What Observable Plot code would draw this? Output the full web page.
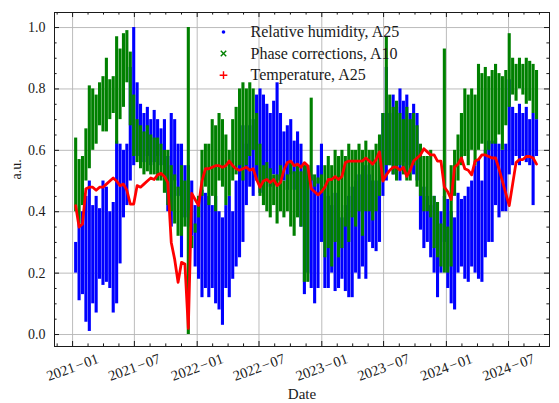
<!DOCTYPE html>
<html>
<head>
<meta charset="utf-8">
<script src="https://cdn.jsdelivr.net/npm/d3@7"></script>
<script src="https://cdn.jsdelivr.net/npm/@observablehq/plot@0.6"></script>
<style>
  html, body { margin: 0; padding: 0; background: #ffffff; }
  #chart svg { display: block; }
</style>
</head>
<body>
<div id="chart"></div>
<script>
// ---------- data (10-day samples: upper / lower envelope of the dense clouds) ----------
const sampleStart = "2021-01-10";
const sampleStepDays = 10;

const humidityHigh = [
  0.30,0.36,0.40,0.45,0.50,0.42,0.45,0.41,0.50,0.48,0.40,0.43,0.63,
  0.62,0.60,0.62,0.87,1.00,0.82,0.75,0.72,0.74,0.70,0.73,0.70,0.67,0.70,0.58,0.72,0.70,0.62,
  0.62,0.55,0.55,0.50,0.42,0.45,0.47,0.46,0.45,0.42,0.45,0.40,0.38,0.42,0.45,0.40,0.50,0.58,
  0.68,0.62,0.68,0.70,0.78,0.80,0.78,0.75,0.72,0.76,0.82,0.72,0.66,0.68,0.70,0.63,0.66,0.62,
  0.55,0.55,0.52,0.50,0.55,0.62,0.48,0.45,0.42,0.46,0.40,0.38,0.42,0.45,0.48,0.50,0.52,0.52,
  0.55,0.52,0.50,0.50,0.55,0.72,0.87,0.72,0.78,0.74,0.80,0.76,0.78,0.72,0.75,0.72,0.60,0.48,
  0.45,0.42,0.45,0.36,0.40,0.45,0.44,0.40,0.38,0.46,0.44,0.45,0.48,0.50,0.55,0.57,0.50,0.60,0.63,
  0.63,0.64,0.62,0.60,0.62,0.83,0.74,0.72,0.75,0.72,0.74,0.70,0.72,0.70
];
const humidityLow = [
  0.20,0.11,0.13,0.04,0.01,0.10,0.07,0.18,0.16,0.17,0.15,0.07,0.10,
  0.23,0.38,0.42,0.50,0.55,0.58,0.60,0.56,0.58,0.55,0.56,0.58,0.55,0.52,0.40,0.35,0.50,0.45,
  0.25,0.38,0.35,0.32,0.22,0.18,0.12,0.15,0.12,0.15,0.10,0.08,0.03,0.15,0.12,0.18,0.22,0.25,
  0.30,0.42,0.48,0.45,0.50,0.46,0.50,0.50,0.48,0.52,0.50,0.52,0.50,0.47,0.52,0.47,0.47,0.35,
  0.13,0.20,0.15,0.10,0.15,0.30,0.15,0.15,0.20,0.14,0.15,0.18,0.14,0.12,0.12,0.20,0.18,0.22,
  0.18,0.30,0.28,0.27,0.30,0.45,0.50,0.55,0.52,0.55,0.50,0.56,0.52,0.55,0.52,0.50,0.34,0.28,
  0.30,0.25,0.20,0.12,0.20,0.30,0.15,0.10,0.08,0.20,0.22,0.18,0.17,0.22,0.20,0.18,0.17,0.25,0.30,
  0.30,0.42,0.38,0.40,0.40,0.52,0.55,0.58,0.55,0.58,0.56,0.55,0.42,0.58
];
const phaseHigh = [
  0.64,0.57,0.58,0.67,0.81,0.80,0.78,0.82,0.84,0.90,0.83,0.84,0.97,
  0.93,0.98,0.99,0.92,0.78,0.70,0.68,0.66,0.68,0.65,0.64,0.64,0.62,0.60,0.60,0.55,0.52,0.48,
  0.55,0.50,1.00,0.32,0.36,0.45,0.60,0.62,0.62,0.70,0.68,0.72,0.70,0.65,0.60,0.70,0.74,0.80,
  0.82,0.80,0.82,0.80,0.72,0.62,0.55,0.56,0.54,0.52,0.52,0.55,0.50,0.52,0.56,0.53,0.55,0.53,
  0.55,0.55,0.77,0.52,0.51,0.52,0.55,0.58,0.55,0.60,0.58,0.60,0.58,0.62,0.60,0.60,0.62,0.60,
  0.63,0.60,0.60,0.62,0.65,0.72,0.97,0.78,0.74,0.76,0.72,0.70,0.74,0.70,0.72,0.68,0.62,0.58,
  0.58,0.60,0.45,0.43,0.36,0.93,0.35,0.55,0.60,0.65,0.72,0.80,0.78,0.80,0.78,0.88,0.85,0.87,0.84,
  0.86,0.88,0.85,0.84,0.86,0.98,0.90,0.88,0.90,0.88,0.90,0.89,0.88,0.86
];
const phaseLow = [
  0.40,0.36,0.42,0.50,0.54,0.60,0.62,0.68,0.66,0.66,0.70,0.72,0.62,
  0.70,0.74,0.82,0.68,0.58,0.56,0.54,0.52,0.53,0.52,0.52,0.50,0.50,0.46,0.42,0.40,0.36,0.32,
  0.32,0.35,0.00,0.28,0.33,0.38,0.45,0.48,0.42,0.45,0.40,0.50,0.48,0.42,0.45,0.50,0.52,0.55,
  0.50,0.55,0.58,0.60,0.55,0.45,0.42,0.40,0.38,0.42,0.36,0.40,0.38,0.40,0.35,0.32,0.38,0.35,
  0.17,0.17,0.50,0.48,0.49,0.46,0.25,0.28,0.22,0.30,0.25,0.28,0.35,0.30,0.38,0.35,0.40,0.32,
  0.40,0.40,0.37,0.40,0.45,0.50,0.55,0.55,0.52,0.50,0.55,0.52,0.50,0.50,0.55,0.48,0.45,0.40,
  0.40,0.38,0.28,0.25,0.22,0.20,0.20,0.22,0.45,0.50,0.55,0.58,0.55,0.60,0.55,0.60,0.62,0.58,0.60,
  0.62,0.62,0.65,0.60,0.68,0.74,0.78,0.76,0.80,0.78,0.75,0.76,0.72,0.70
];
const temperature = [
  0.42,0.35,0.36,0.475,0.48,0.48,0.47,0.48,0.48,0.49,0.50,0.51,0.50,
  0.485,0.49,0.47,0.425,0.425,0.485,0.48,0.49,0.50,0.51,0.505,0.52,0.525,0.515,0.495,0.30,0.245,0.17,
  0.235,0.23,0.02,0.46,0.44,0.42,0.50,0.54,0.54,0.545,0.55,0.55,0.545,0.55,0.565,0.55,0.54,0.535,
  0.54,0.545,0.535,0.54,0.505,0.48,0.50,0.505,0.495,0.505,0.485,0.495,0.535,0.56,0.565,0.55,0.555,0.545,
  0.56,0.55,0.475,0.465,0.455,0.465,0.48,0.505,0.505,0.515,0.505,0.515,0.56,0.565,0.565,0.565,0.565,0.565,
  0.575,0.565,0.555,0.57,0.595,0.50,0.52,0.535,0.545,0.545,0.535,0.545,0.515,0.535,0.565,0.575,0.585,0.605,
  0.595,0.585,0.585,0.565,0.565,0.48,0.465,0.44,0.545,0.555,0.575,0.54,0.535,0.52,0.565,0.57,0.585,0.585,0.58,
  0.575,0.575,0.54,0.50,0.46,0.42,0.49,0.56,0.57,0.57,0.58,0.58,0.575,0.555
];

const seriesNames = ["Relative humidity, A25", "Phase corrections, A10", "Temperature, A25"];
const seriesColors = ["#0000ff", "#008000", "#ff0000"];
const seriesSymbols = ["circle", "times", "plus"];

const xMajorTicks = ["2021-01-01","2021-07-01","2022-01-01","2022-07-01","2023-01-01","2023-07-01","2024-01-01","2024-07-01"];
const xTickLabels = ["2021\u200a\u2212\u200a01","2021\u200a\u2212\u200a07","2022\u200a\u2212\u200a01","2022\u200a\u2212\u200a07","2023\u200a\u2212\u200a01","2023\u200a\u2212\u200a07","2024\u200a\u2212\u200a01","2024\u200a\u2212\u200a07"];
const xDomain = ["2020-11-09", "2024-10-29"];
const yTicks = [0, 0.2, 0.4, 0.6, 0.8, 1.0];
const yTickLabels = ["0.0", "0.2", "0.4", "0.6", "0.8", "1.0"];
const yMinorTicks = [0.05,0.1,0.15,0.25,0.3,0.35,0.45,0.5,0.55,0.65,0.7,0.75,0.85,0.9,0.95];
const yDomain = [-0.039, 1.049];
const xLabel = "Date";
const yLabel = "a.u.";

// ---------- layout ----------
const W = 559, H = 403, mL = 54, mR = 10, mT = 12, mB = 57;
const plotW = W - mL - mR, plotH = H - mT - mB;
const majorLen = 5, minorLen = 2.6;

// ---------- build tables ----------
const t0 = new Date(sampleStart + "T00:00:00Z");
const dayOf = i => d3.utcDay.offset(t0, i * sampleStepDays);
const rows = humidityHigh.map((_, i) => ({
  date: dayOf(i),
  hLo: humidityLow[i], hHi: humidityHigh[i],
  pLo: phaseLow[i], pHi: phaseHigh[i],
  t: temperature[i]
}));

const majorDates = xMajorTicks.map(s => new Date(s + "T00:00:00Z"));
const minorDates = [];
const span = majorDates[1] - majorDates[0];
for (let j = 1; j <= 3; j++) minorDates.push(new Date(+majorDates[0] - span * j / 4));
for (let i = 0; i < majorDates.length - 1; i++) {
  const a = +majorDates[i], b = +majorDates[i + 1];
  for (let j = 1; j <= 3; j++) minorDates.push(new Date(a + (b - a) * j / 4));
}
const last = +majorDates[majorDates.length - 1];
for (let j = 1; j <= 3; j++) minorDates.push(new Date(last + span * j / 4));
const domX = xDomain.map(s => new Date(s + "T00:00:00Z"));
const minorIn = minorDates.filter(d => d > domX[0] && d < domX[1]);

const ink = "#1a1a1a";
const gridStyle = {stroke: "#b4b4b4", strokeOpacity: 1, strokeWidth: 0.9};

const legendMarks = seriesNames.flatMap((name, i) => [
  Plot.dot([name], {
    frameAnchor: "top-left", dx: 169, dy: 19.5 + 21.6 * i,
    symbol: seriesSymbols[i],
    r: i === 0 ? 1.8 : 2.6,
    fill: i === 0 ? seriesColors[i] : "none",
    stroke: seriesColors[i],
    strokeWidth: i === 0 ? 0 : 1.4
  }),
  Plot.text([name], {
    frameAnchor: "top-left", dx: 196, dy: 19.5 + 21.6 * i, lineAnchor: "middle",
    text: d => d, textAnchor: "start", fontSize: 16, fill: ink
  })
]);

const chart = Plot.plot({
  width: W, height: H,
  marginLeft: mL, marginRight: mR, marginTop: mT, marginBottom: mB,
  style: {fontFamily: "'Liberation Serif', 'Times New Roman', serif", fontSize: "14px", background: "#ffffff", color: ink},
  x: {type: "utc", domain: domX, axis: null},
  y: {domain: yDomain, axis: null},
  marks: [
    Plot.gridX(majorDates, gridStyle),
    Plot.gridY(yTicks, gridStyle),
    Plot.ruleX(rows, {x: "date", y1: "hLo", y2: "hHi", stroke: seriesColors[0], strokeWidth: 3.1}),
    Plot.ruleX(rows, {x: "date", y1: "pLo", y2: "pHi", stroke: seriesColors[1], strokeWidth: 3.1}),
    Plot.line(rows, {x: "date", y: "t", stroke: seriesColors[2], strokeWidth: 2.8}),
    Plot.frame({stroke: ink, strokeWidth: 1}),
    // inward ticks on all four sides
    Plot.tickX(majorDates, {x: d => d, insetTop: plotH - majorLen, stroke: ink}),
    Plot.tickX(minorIn, {x: d => d, insetTop: plotH - minorLen, stroke: ink}),
    Plot.tickX(majorDates, {x: d => d, insetBottom: plotH - majorLen, stroke: ink}),
    Plot.tickX(minorIn, {x: d => d, insetBottom: plotH - minorLen, stroke: ink}),
    Plot.tickY(yTicks, {y: d => d, insetRight: plotW - majorLen, stroke: ink}),
    Plot.tickY(yMinorTicks, {y: d => d, insetRight: plotW - minorLen, stroke: ink}),
    Plot.tickY(yTicks, {y: d => d, insetLeft: plotW - majorLen, stroke: ink}),
    Plot.tickY(yMinorTicks, {y: d => d, insetLeft: plotW - minorLen, stroke: ink}),
    // tick labels and axis titles
    Plot.text(majorDates, {x: d => d, text: (d, i) => xTickLabels[i], frameAnchor: "bottom", lineAnchor: "middle", dy: 21, rotate: -20, textAnchor: "middle", fontSize: 14.5, fill: ink}),
    Plot.text(yTicks, {y: d => d, text: (d, i) => yTickLabels[i], frameAnchor: "left", lineAnchor: "middle", dx: -9, textAnchor: "end", fontSize: 14, fill: ink}),
    Plot.text([yLabel], {frameAnchor: "left", lineAnchor: "middle", dx: -38, rotate: -90, text: d => d, fontSize: 14, fill: ink}),
    Plot.text([xLabel], {frameAnchor: "bottom", lineAnchor: "middle", dy: 48, text: d => d, fontSize: 15, fill: ink}),
    ...legendMarks
  ]
});
document.getElementById("chart").appendChild(chart);
</script>
</body>
</html>
